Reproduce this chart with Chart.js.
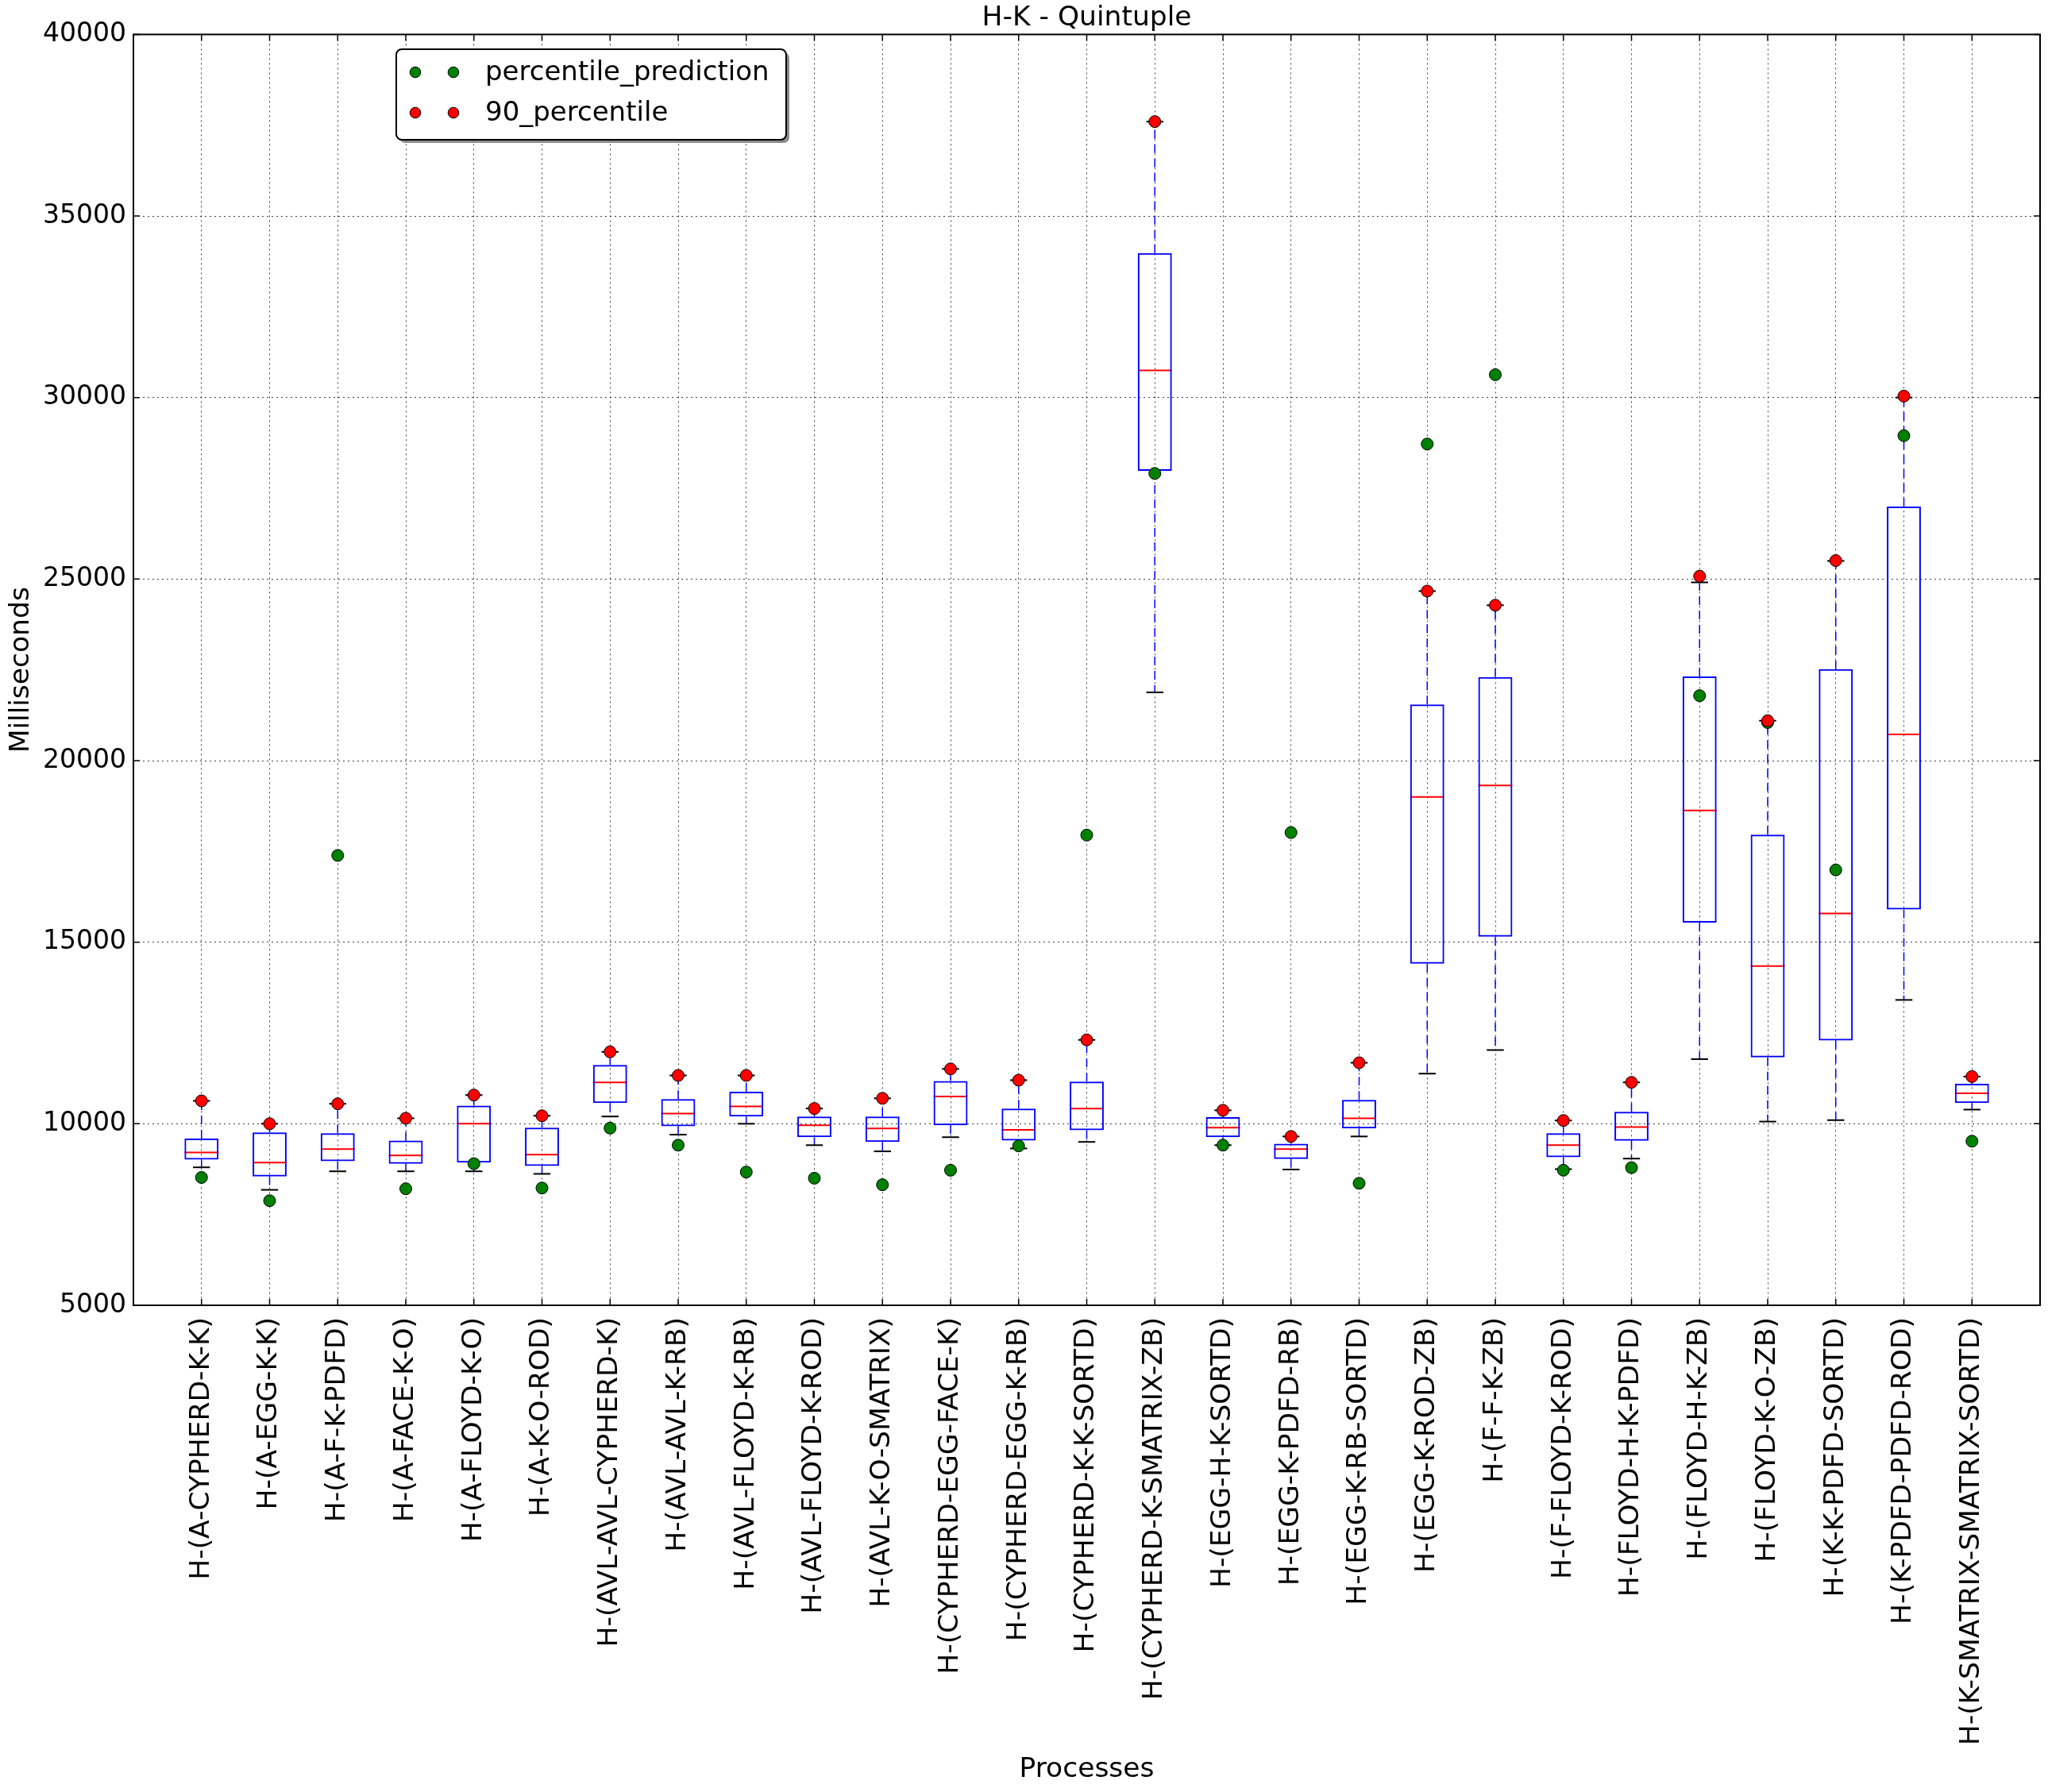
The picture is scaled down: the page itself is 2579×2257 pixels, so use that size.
<!DOCTYPE html>
<html>
<head>
<meta charset="utf-8">
<title>H-K - Quintuple</title>
<script src="https://cdn.jsdelivr.net/npm/chart.js@4.4.0/dist/chart.umd.min.js"></script>
<style>
    html, body { margin: 0; padding: 0; background: #fff; }
    #wrap { width: 2579px; height: 2257px; }
</style>
</head>
<body>
<div id="wrap"><canvas id="boxChart" width="2579" height="2257"></canvas></div>
<script>
// Categories (one box per process)
const processes = [
    'H-(A-CYPHERD-K-K)', 'H-(A-EGG-K-K)', 'H-(A-F-K-PDFD)', 'H-(A-FACE-K-O)',
    'H-(A-FLOYD-K-O)', 'H-(A-K-O-ROD)', 'H-(AVL-AVL-CYPHERD-K)', 'H-(AVL-AVL-K-RB)',
    'H-(AVL-FLOYD-K-RB)', 'H-(AVL-FLOYD-K-ROD)', 'H-(AVL-K-O-SMATRIX)', 'H-(CYPHERD-EGG-FACE-K)',
    'H-(CYPHERD-EGG-K-RB)', 'H-(CYPHERD-K-K-SORTD)', 'H-(CYPHERD-K-SMATRIX-ZB)', 'H-(EGG-H-K-SORTD)',
    'H-(EGG-K-PDFD-RB)', 'H-(EGG-K-RB-SORTD)', 'H-(EGG-K-ROD-ZB)', 'H-(F-F-K-ZB)',
    'H-(F-FLOYD-K-ROD)', 'H-(FLOYD-H-K-PDFD)', 'H-(FLOYD-H-K-ZB)', 'H-(FLOYD-K-O-ZB)',
    'H-(K-K-PDFD-SORTD)', 'H-(K-PDFD-PDFD-ROD)', 'H-(K-SMATRIX-SMATRIX-SORTD)'
];

// Box plot statistics (milliseconds)
const whiskerLow  = [8800, 8180, 8690, 8690, 8690, 8620, 10200, 9700, 10000, 9410, 9240, 9630, 9320, 9500, 21880, 9410, 8740, 9650, 11380, 12030, 8750, 9040, 11780, 10060, 10100, 13410, 10390];
const quartile1   = [9010, 8550, 8970, 8900, 8930, 8840, 10570, 9930, 10200, 9630, 9500, 9960, 9540, 9820, 27980, 9630, 9030, 9870, 14410, 15150, 9080, 9530, 15540, 11830, 12290, 15900, 10570];
const medians     = [9210, 8930, 9300, 9130, 10000, 9150, 11140, 10280, 10480, 9960, 9870, 10750, 9830, 10420, 30750, 9890, 9300, 10150, 19000, 19320, 9410, 9910, 18630, 14340, 15790, 20720, 10840];
const quartile3   = [9590, 9760, 9740, 9540, 10500, 9890, 11620, 10680, 10880, 10200, 10200, 11180, 10420, 11160, 33980, 10180, 9450, 10660, 21550, 22300, 9740, 10330, 22320, 17960, 22520, 27000, 11100];
const whiskerHigh = [10630, 10000, 10550, 10150, 10790, 10220, 11980, 11330, 11330, 10420, 10700, 11510, 11200, 12310, 37600, 10370, 9650, 11680, 24670, 24280, 10090, 11140, 24910, 21100, 25500, 30000, 11300];

// Point series
const percentile90 = [10630, 10000, 10550, 10150, 10790, 10220, 11980, 11330, 11330, 10420, 10700, 11510, 11200, 12310, 37600, 10370, 9650, 11680, 24670, 24280, 10090, 11140, 25080, 21100, 25510, 30040, 11300];
const percentilePrediction = [8520, 7880, 17390, 8210, 8900, 8230, 9880, 9410, 8670, 8500, 8320, 8720, 9390, 17950, 27910, 9410, 18020, 8360, 28720, 30630, 8720, 8790, 21790, 21050, 16990, 28950, 9520];

// Y axis ticks
const yTicks = [5000, 10000, 15000, 20000, 25000, 30000, 35000, 40000];

const FONT = 'DejaVu Sans';
Chart.defaults.color = '#000';
Chart.defaults.font.family = FONT;

// Whiskers, caps, medians, frame, inward ticks and legend
const boxPlotExtras = {
    id: 'boxPlotExtras',
    beforeDatasetsDraw(chart) {
        const ctx = chart.ctx;
        const x = chart.scales.x;
        const y = chart.scales.y;
        const step = x.getPixelForValue(1) - x.getPixelForValue(0);
        const halfBox = step * 0.25;
        const halfCap = halfBox / 2;

        function line(x1, y1, x2, y2) {
            ctx.beginPath();
            ctx.moveTo(x1, y1);
            ctx.lineTo(x2, y2);
            ctx.stroke();
        }

        ctx.save();
        processes.forEach((name, i) => {
            const px = x.getPixelForValue(i + 1);
            const yLo = y.getPixelForValue(whiskerLow[i]);
            const yQ1 = y.getPixelForValue(quartile1[i]);
            const yMed = y.getPixelForValue(medians[i]);
            const yQ3 = y.getPixelForValue(quartile3[i]);
            const yHi = y.getPixelForValue(whiskerHigh[i]);

            // dashed whiskers
            ctx.strokeStyle = '#0000ff';
            ctx.lineWidth = 1.5;
            ctx.setLineDash([11, 7]);
            line(px, yQ3, px, yHi);
            line(px, yQ1, px, yLo);

            // caps
            ctx.setLineDash([]);
            ctx.strokeStyle = '#000';
            ctx.lineWidth = 2;
            line(px - halfCap, yHi, px + halfCap, yHi);
            line(px - halfCap, yLo, px + halfCap, yLo);

            // median
            ctx.strokeStyle = '#ff0000';
            ctx.lineWidth = 2;
            line(px - halfBox, yMed, px + halfBox, yMed);
        });
        ctx.restore();
    },
    afterDraw(chart) {
        const ctx = chart.ctx;
        const area = chart.chartArea;
        const x = chart.scales.x;
        const y = chart.scales.y;
        const tick = 8;

        ctx.save();
        // inward tick marks on all four sides
        ctx.strokeStyle = '#000';
        ctx.lineWidth = 1.5;
        processes.forEach((name, i) => {
            const px = x.getPixelForValue(i + 1);
            ctx.beginPath();
            ctx.moveTo(px, area.bottom); ctx.lineTo(px, area.bottom - tick);
            ctx.moveTo(px, area.top); ctx.lineTo(px, area.top + tick);
            ctx.stroke();
        });
        yTicks.forEach(v => {
            const py = y.getPixelForValue(v);
            ctx.beginPath();
            ctx.moveTo(area.left, py); ctx.lineTo(area.left + tick, py);
            ctx.moveTo(area.right, py); ctx.lineTo(area.right - tick, py);
            ctx.stroke();
        });

        // axes frame
        ctx.lineWidth = 2;
        ctx.strokeRect(area.left, area.top, area.right - area.left, area.bottom - area.top);

        // legend (two markers per entry, matplotlib style)
        const lx = 499, ly = 62, lw = 491, lh = 114;
        function roundRect(rx, ry, rw, rh, r) {
            ctx.beginPath();
            ctx.moveTo(rx + r, ry);
            ctx.arcTo(rx + rw, ry, rx + rw, ry + rh, r);
            ctx.arcTo(rx + rw, ry + rh, rx, ry + rh, r);
            ctx.arcTo(rx, ry + rh, rx, ry, r);
            ctx.arcTo(rx, ry, rx + rw, ry, r);
            ctx.closePath();
        }
        ctx.fillStyle = 'rgba(0,0,0,0.45)';
        roundRect(lx + 4, ly + 4, lw, lh, 7);
        ctx.fill();
        ctx.fillStyle = '#fff';
        roundRect(lx, ly, lw, lh, 7);
        ctx.fill();
        ctx.lineWidth = 2;
        ctx.strokeStyle = '#000';
        ctx.stroke();

        const entries = chart.data.datasets.filter(ds => ds.type === 'scatter').reverse();
        ctx.font = '34px "' + FONT + '"';
        ctx.textBaseline = 'middle';
        ctx.textAlign = 'left';
        entries.forEach((ds, k) => {
            const rowY = 91 + k * 51;
            [523, 571].forEach(cx => {
                ctx.beginPath();
                ctx.arc(cx, rowY, 6.8, 0, Math.PI * 2);
                ctx.fillStyle = ds.backgroundColor;
                ctx.fill();
                ctx.lineWidth = 1;
                ctx.strokeStyle = '#000';
                ctx.stroke();
            });
            ctx.fillStyle = '#000';
            ctx.fillText(ds.label, 611, rowY + 1);
        });
        ctx.restore();
    }
};

document.addEventListener('DOMContentLoaded', function() {
    const ctx = document.getElementById('boxChart');

    const boxData = processes.map((p, i) => ({ x: i + 1, y: [quartile1[i], quartile3[i]] }));
    const predData = percentilePrediction.map((v, i) => ({ x: i + 1, y: v }));
    const p90Data = percentile90.map((v, i) => ({ x: i + 1, y: v }));

    new Chart(ctx, {
        type: 'bar',
        data: {
            datasets: [
                {
                    type: 'scatter',
                    label: '90_percentile',
                    data: p90Data,
                    backgroundColor: '#ff0000',
                    borderColor: '#000',
                    borderWidth: 1,
                    pointRadius: 7.5,
                    order: 0
                },
                {
                    type: 'scatter',
                    label: 'percentile_prediction',
                    data: predData,
                    backgroundColor: '#008000',
                    borderColor: '#000',
                    borderWidth: 1,
                    pointRadius: 7.5,
                    order: 1
                },
                {
                    type: 'bar',
                    label: 'box',
                    data: boxData,
                    backgroundColor: 'rgba(0,0,0,0)',
                    borderColor: '#0000ff',
                    borderWidth: 2,
                    borderSkipped: false,
                    categoryPercentage: 1,
                    barPercentage: 0.5,
                    order: 2
                }
            ]
        },
        options: {
            responsive: false,
            animation: false,
            layout: {
                padding: { left: 0, right: 10, top: 0, bottom: 0 }
            },
            plugins: {
                legend: { display: false },
                tooltip: { enabled: false },
                title: {
                    display: true,
                    text: 'H-K - Quintuple',
                    fullSize: false,
                    color: '#000',
                    font: { size: 34.5, weight: 'normal', family: FONT },
                    padding: { top: 2, bottom: 0 }
                }
            },
            scales: {
                x: {
                    type: 'linear',
                    min: 0,
                    max: 28,
                    offset: false,
                    afterFit: function(scale) {
                        scale.height = 613;
                        scale.paddingLeft = 0;
                        scale.paddingRight = 0;
                    },
                    grid: {
                        offset: false,
                        color: 'rgba(0,0,0,0.75)',
                        lineWidth: 1,
                        drawTicks: false
                    },
                    border: { display: false, dash: [2, 4] },
                    ticks: {
                        stepSize: 1,
                        maxTicksLimit: 40,
                        autoSkip: false,
                        maxRotation: 90,
                        minRotation: 90,
                        padding: 15,
                        color: '#000',
                        font: { size: 34.5, family: FONT },
                        callback: function(value) {
                            return processes[value - 1] || '';
                        }
                    },
                    title: {
                        display: true,
                        text: 'Processes',
                        color: '#000',
                        font: { size: 34.5, family: FONT },
                        padding: { top: 0, bottom: 7 }
                    }
                },
                y: {
                    min: 5000,
                    max: 40000,
                    afterFit: function(scale) { scale.width = 168; },
                    afterBuildTicks: function(scale) {
                        scale.ticks = yTicks.map(v => ({ value: v }));
                    },
                    grid: {
                        color: 'rgba(0,0,0,0.75)',
                        lineWidth: 1,
                        drawTicks: false
                    },
                    border: { display: false, dash: [2, 4] },
                    ticks: {
                        padding: 9,
                        color: '#000',
                        font: { size: 33, family: FONT },
                        callback: function(value) { return String(value); }
                    },
                    title: {
                        display: true,
                        text: 'Milliseconds',
                        color: '#000',
                        font: { size: 34.5, family: FONT },
                        padding: { top: 6, bottom: 0 }
                    }
                }
            }
        },
        plugins: [boxPlotExtras]
    });
});
</script>
</body>
</html>
